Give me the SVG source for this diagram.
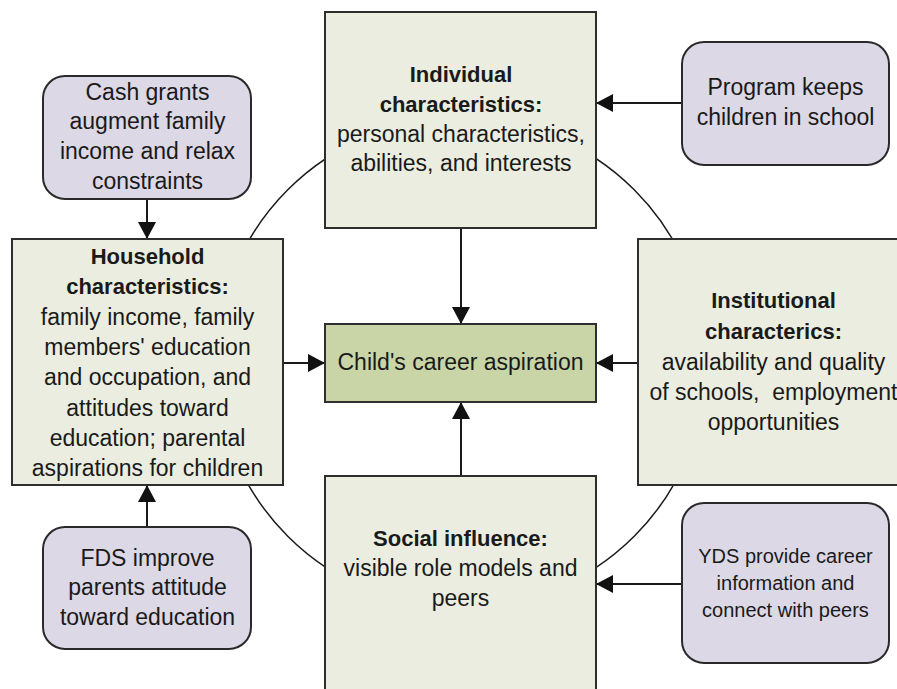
<svg xmlns="http://www.w3.org/2000/svg" width="897" height="689" viewBox="0 0 897 689">
<defs>
<style>
.box{fill:#EAEDDF;stroke:#2e2e2e;stroke-width:2}
.core{fill:#C9D5A7;stroke:#2e2e2e;stroke-width:2}
.prog{fill:#DCD8E6;stroke:#2a2a2a;stroke-width:2}
.t{font-family:"Liberation Sans",Arial,sans-serif;font-size:23px;fill:#1a1a1a;text-anchor:middle;white-space:pre}
.b{font-weight:bold;font-size:22px}
.s{font-size:20px}
.ln{stroke:#1a1a1a;stroke-width:2;fill:none}
.arc{stroke:#1a1a1a;stroke-width:1.5;fill:none}
</style>
<marker id="ah" markerUnits="userSpaceOnUse" markerWidth="18" markerHeight="18" refX="17" refY="9" orient="auto">
<path d="M0,0 L17,9 L0,18 z" fill="#111"/>
</marker>
</defs>
<rect width="897" height="689" fill="#fff"/>
<g id="connectors">
<circle class="arc" cx="461" cy="363" r="245"/>
<line class="ln" x1="147" y1="199" x2="147" y2="239" marker-end="url(#ah)"/>
<line class="ln" x1="147" y1="527" x2="147" y2="485" marker-end="url(#ah)"/>
<line class="ln" x1="682" y1="103" x2="596" y2="103" marker-end="url(#ah)"/>
<line class="ln" x1="682" y1="584" x2="596" y2="584" marker-end="url(#ah)"/>
<line class="ln" x1="461" y1="228" x2="461" y2="324" marker-end="url(#ah)"/>
<line class="ln" x1="461" y1="476" x2="461" y2="402" marker-end="url(#ah)"/>
<line class="ln" x1="283" y1="363" x2="325" y2="363" marker-end="url(#ah)"/>
<line class="ln" x1="638" y1="363" x2="596" y2="363" marker-end="url(#ah)"/>
</g>
<g id="individual">
<rect class="box" x="325" y="12" width="271" height="216"/>
<text class="t b" x="461" y="82">Individual</text>
<text class="t b" x="461" y="112">characteristics:</text>
<text class="t" x="461" y="142">personal characteristics,</text>
<text class="t" x="461" y="171">abilities, and interests</text>
</g>
<g id="household">
<rect class="box" x="12" y="239" width="271" height="246"/>
<text class="t b" x="147.5" y="264">Household</text>
<text class="t b" x="147.5" y="294">characteristics:</text>
<text class="t" x="147.5" y="325">family income, family</text>
<text class="t" x="147.5" y="355">members' education</text>
<text class="t" x="147.5" y="385">and occupation, and</text>
<text class="t" x="147.5" y="416">attitudes toward</text>
<text class="t" x="147.5" y="446">education; parental</text>
<text class="t" x="147.5" y="476">aspirations for children</text>
</g>
<g id="child">
<rect class="core" x="325" y="324" width="271" height="78"/>
<text class="t" x="460.5" y="370">Child's career aspiration</text>
</g>
<g id="institutional">
<rect class="box" x="638" y="239" width="272" height="246"/>
<text class="t b" x="773.5" y="308">Institutional</text>
<text class="t b" x="773.5" y="339">characterics:</text>
<text class="t" x="773.5" y="370">availability and quality</text>
<text class="t" x="773.5" y="400" xml:space="preserve">of schools,  employment</text>
<text class="t" x="773.5" y="430">opportunities</text>
</g>
<g id="social">
<rect class="box" x="325" y="476" width="271" height="230"/>
<text class="t b" x="460.5" y="546">Social influence:</text>
<text class="t" x="460.5" y="576">visible role models and</text>
<text class="t" x="460.5" y="606">peers</text>
</g>
<g id="cash">
<rect class="prog" x="43" y="76" width="208" height="123" rx="22" ry="22"/>
<text class="t" x="147.5" y="100">Cash grants</text>
<text class="t" x="147.5" y="129">augment family</text>
<text class="t" x="147.5" y="159">income and relax</text>
<text class="t" x="147.5" y="189">constraints</text>
</g>
<g id="program">
<rect class="prog" x="682" y="42" width="207" height="123" rx="22" ry="22"/>
<text class="t" x="785.5" y="95">Program keeps</text>
<text class="t" x="785.5" y="125">children in school</text>
</g>
<g id="fds">
<rect class="prog" x="43" y="527" width="208" height="122" rx="22" ry="22"/>
<text class="t" x="147.5" y="566">FDS improve</text>
<text class="t" x="147.5" y="595">parents attitude</text>
<text class="t" x="147.5" y="625">toward education</text>
</g>
<g id="yds">
<rect class="prog" x="682" y="503" width="207" height="160" rx="22" ry="22"/>
<text class="t s" x="785.5" y="563">YDS provide career</text>
<text class="t s" x="785.5" y="590">information and</text>
<text class="t s" x="785.5" y="617">connect with peers</text>
</g>
</svg>
